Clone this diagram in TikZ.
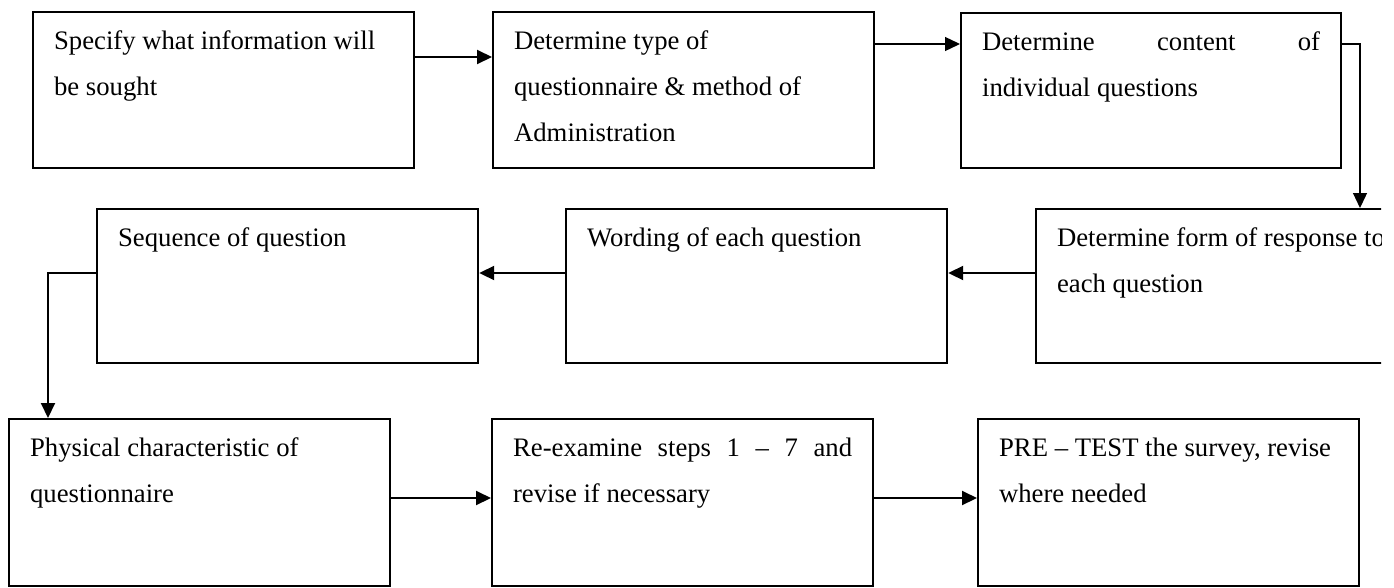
\documentclass[tikz,border=0pt]{standalone}
\usepackage{fontspec}
\setmainfont{Liberation Serif}
\usetikzlibrary{arrows.meta,calc}
\newcommand\bxtext[4][339pt]{\parbox[t][#2][t]{#1}{\hyphenpenalty=10000\exhyphenpenalty=10000#3\strut #4}}
\tikzset{
  stepbox/.style={draw, line width=2.2pt, inner xsep=21pt, inner ysep=4.8pt, anchor=north west,
    font=\fontsize{26.7pt}{46pt}\selectfont},
  arr/.style={line width=2pt, -{Triangle[length=15pt,width=14pt]}},
  thinarr/.style={line width=1.3pt, -{Triangle[length=15pt,width=14pt]}}
}
\begin{document}
\begin{tikzpicture}[x=1pt,y=-1pt]
\useasboundingbox (0,0) rectangle (1394,587);
\fill[white] (0,0) rectangle (1394,587);
\begin{scope}
\clip (0,0) rectangle (1381,587);
% row 1
\node[stepbox] (b1) at (32,11) {\bxtext{146pt}{\raggedright}{Specify what information will be sought}};
\node[stepbox] (b2) at (492,11) {\bxtext{146pt}{\raggedright}{Determine type of questionnaire \& method of Administration}};
\node[stepbox] (b3) at (960,12) {\bxtext[338pt]{145pt}{\spaceskip=.25em plus 10em\relax}{Determine content of individual questions}};
% row 2
\node[stepbox] (b4) at (1035,208) {\bxtext{144pt}{\raggedright}{Determine form of response to each question}};
\node[stepbox] (b5) at (565,208) {\bxtext{144pt}{\raggedright}{Wording of each question}};
\node[stepbox] (b6) at (96,208) {\bxtext{144pt}{\raggedright}{Sequence of question}};
% row 3
\node[stepbox] (b7) at (8,418) {\bxtext{157pt}{\raggedright}{Physical characteristic of questionnaire}};
\node[stepbox] (b8) at (491,418) {\bxtext{157pt}{}{Re-examine steps 1 -- 7 and revise if necessary}};
\node[stepbox] (b9) at (977,418) {\bxtext{157pt}{\raggedright}{PRE -- TEST the survey, revise where needed}};
% connectors
\draw[arr] ($(b1.north east)+(0,46)$) -- ($(b2.north west)+(0,46)$);
\draw[thinarr] ($(b2.north east)+(0,33)$) -- ($(b3.north west)+(0,32)$);
\draw[thinarr] ($(b3.north east)+(0,32)$) -| ($(b4.north west)+(325,0)$);
\draw[arr] ($(b4.north west)+(0,65)$) -- ($(b5.north east)+(0,65)$);
\draw[arr] ($(b5.north west)+(0,65)$) -- ($(b6.north east)+(0,65)$);
\draw[arr] ($(b6.north west)+(0,65)$) -| ($(b7.north west)+(40,0)$);
\draw[arr] ($(b7.north east)+(0,80)$) -- ($(b8.north west)+(0,80)$);
\draw[arr] ($(b8.north east)+(0,80)$) -- ($(b9.north west)+(0,80)$);
\end{scope}
\end{tikzpicture}
\end{document}
